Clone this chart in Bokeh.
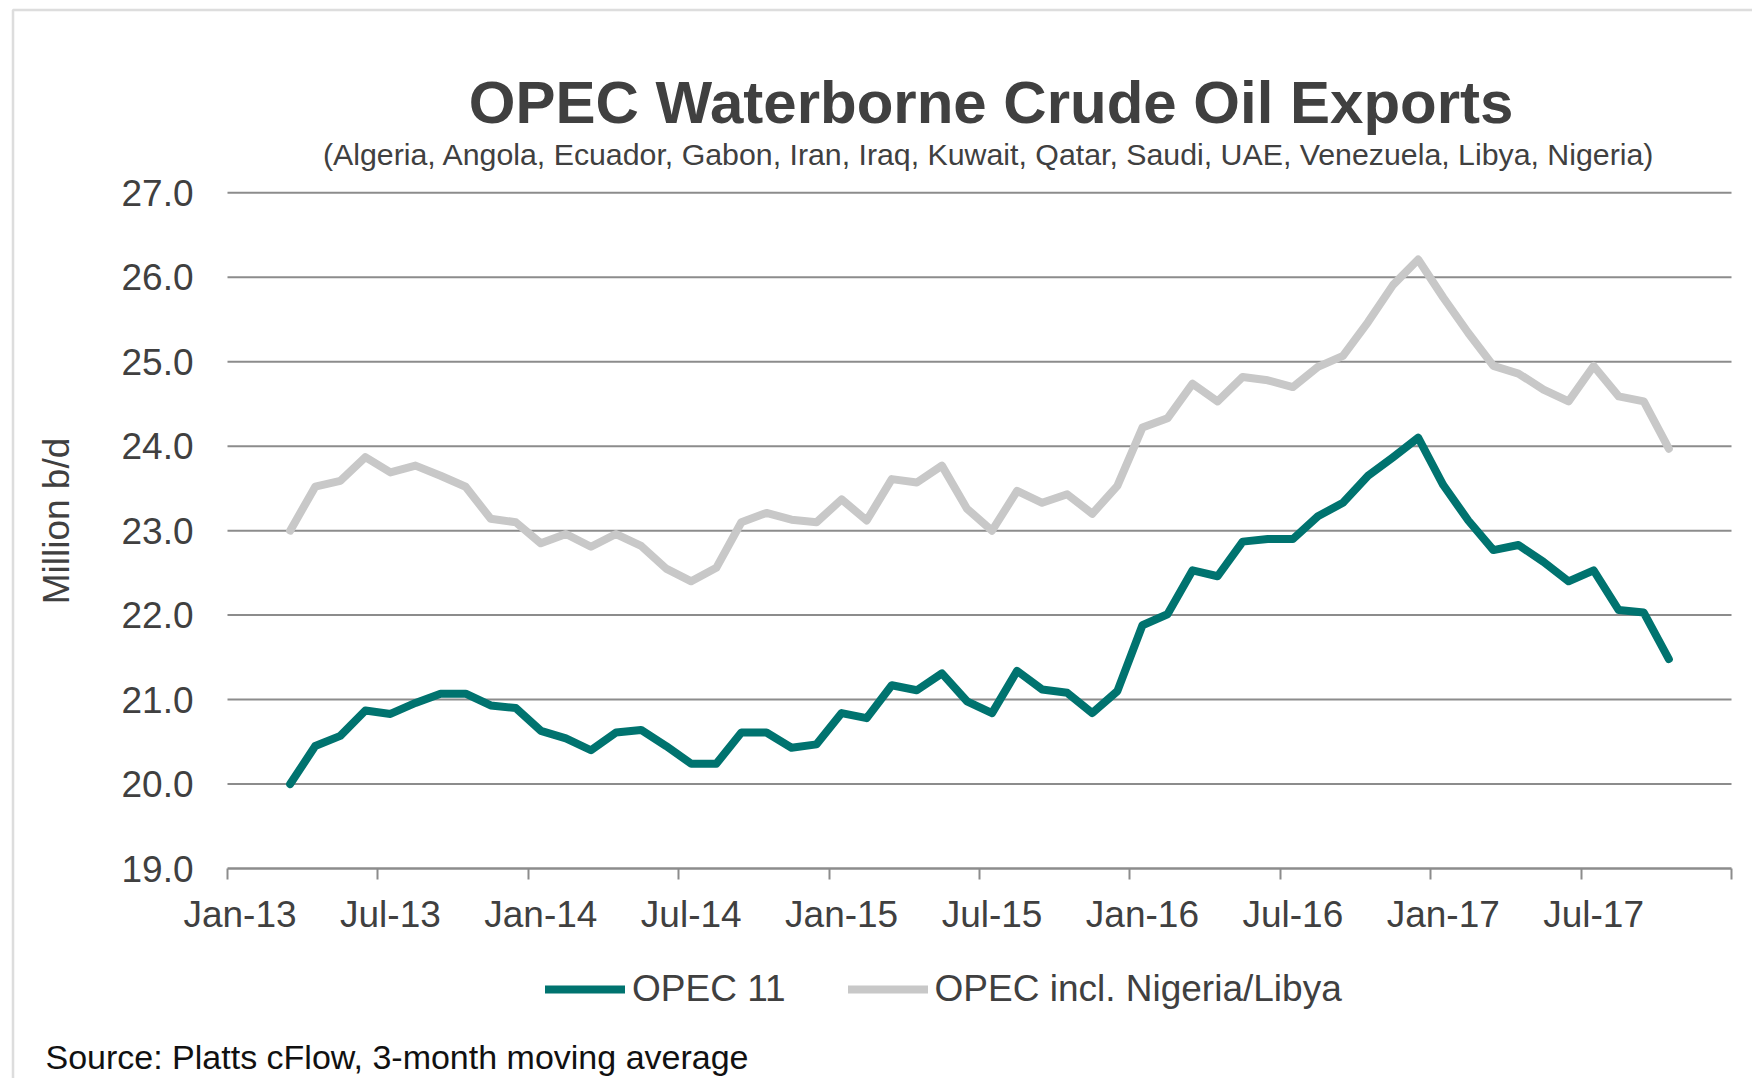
import math
from bokeh.plotting import figure
from bokeh.models import Range1d, FixedTicker, Label, Legend, LegendItem, BoxAnnotation
from bokeh.embed import file_html
from bokeh.resources import INLINE

# ---------------- data ----------------
years = ["13", "14", "15", "16", "17"]
month_names = ["Jan", "Feb", "Mar", "Apr", "May", "Jun",
               "Jul", "Aug", "Sep", "Oct", "Nov", "Dec"]
axis_months = [f"{m}-{y}" for y in years for m in month_names]  # Jan-13 .. Dec-17

months = axis_months[2:58]  # Mar-13 .. Oct-17 (3-month moving average)

opec11 = [20.00, 20.45, 20.57, 20.87, 20.83, 20.96, 21.07, 21.07, 20.93, 20.90,
          20.63, 20.54, 20.40, 20.61, 20.64, 20.45, 20.24, 20.24, 20.61, 20.61,
          20.43, 20.47, 20.84, 20.78, 21.17, 21.11, 21.31, 20.98, 20.84, 21.34,
          21.12, 21.08, 20.84, 21.10, 21.88, 22.01, 22.53, 22.46, 22.87, 22.90,
          22.90, 23.17, 23.33, 23.65, 23.87, 24.10, 23.54, 23.12, 22.77, 22.83,
          22.63, 22.40, 22.53, 22.06, 22.03, 21.48]

opec_all = [23.00, 23.52, 23.59, 23.87, 23.69, 23.77, 23.65, 23.52, 23.14, 23.10,
            22.85, 22.96, 22.81, 22.96, 22.82, 22.55, 22.40, 22.56, 23.10, 23.21,
            23.13, 23.10, 23.37, 23.12, 23.61, 23.57, 23.77, 23.26, 23.00, 23.47,
            23.33, 23.43, 23.20, 23.53, 24.22, 24.33, 24.74, 24.53, 24.82, 24.78,
            24.70, 24.94, 25.07, 25.47, 25.91, 26.21, 25.76, 25.34, 24.95, 24.86,
            24.67, 24.53, 24.95, 24.59, 24.53, 23.97]

tick_labels = ["Jan-13", "Jul-13", "Jan-14", "Jul-14", "Jan-15",
               "Jul-15", "Jan-16", "Jul-16", "Jan-17", "Jul-17"]
y_ticks = [19, 20, 21, 22, 23, 24, 25, 26, 27]

series_names = ["OPEC 11", "OPEC incl. Nigeria/Libya"]
title_text = "OPEC Waterborne Crude Oil Exports"
subtitle_text = "(Algeria, Angola, Ecuador, Gabon, Iran, Iraq, Kuwait, Qatar, Saudi, UAE, Venezuela, Libya, Nigeria)"
y_title = "Million b/d"
source_text = "Source: Platts cFlow, 3-month moving average"

# ---------------- layout ----------------
W, H = 1752, 1078
# plot-area pixel geometry (frame covers whole canvas; axes are pinned inside it)
XA, XB = -0.5, 59.5          # month-axis extent
PXA, PXB = 227.0, 1731.0     # pixel columns of XA, XB
YA, YB = 19.0, 27.0
PYA, PYB = 868.0, 192.3      # pixel rows of YA, YB
kx = (PXB - PXA) / (XB - XA)
ky = (PYA - PYB) / (YB - YA)

def sx(px):
    return XA + (px - PXA) / kx

def sy(py):
    return YA + (PYA - py) / ky

FONT = "Liberation Sans"
TXT = "#404040"
GRID = "#8c8c8c"

x = [axis_months.index(m) for m in months]

p = figure(width=W, height=H, output_backend="svg", toolbar_location=None,
           x_range=Range1d(sx(0), sx(W)), y_range=Range1d(sy(H), sy(0)),
           min_border=0, min_border_left=0, min_border_right=0,
           min_border_top=0, min_border_bottom=0)
p.outline_line_color = None
p.background_fill_color = "white"
p.border_fill_color = "white"
p.xgrid.visible = False
p.ygrid.visible = False

# horizontal gridlines across the plot area
grid_y = y_ticks[1:]
p.segment(x0=[XA] * len(grid_y), x1=[XB] * len(grid_y), y0=grid_y, y1=grid_y,
          line_color=GRID, line_width=2)

# y axis (pinned at left edge of plot area)
p.yaxis.fixed_location = XA
p.yaxis.bounds = (YA, YB)
p.yaxis.ticker = FixedTicker(ticks=y_ticks)
p.yaxis.major_label_overrides = {t: f"{t:.1f}" for t in y_ticks}
p.yaxis.axis_line_color = None
p.yaxis.major_tick_line_color = None
p.yaxis.minor_tick_line_color = None
p.yaxis.major_tick_out = 0
p.yaxis.major_tick_in = 0
p.yaxis.major_label_standoff = 34
p.yaxis.major_label_text_font = FONT
p.yaxis.major_label_text_font_size = "37px"
p.yaxis.major_label_text_color = TXT

# x axis (pinned at 19.0)
tick_pos = [axis_months.index(t) for t in tick_labels]
p.xaxis.fixed_location = YA
p.xaxis.bounds = (XA, XB)
p.xaxis.ticker = FixedTicker(ticks=tick_pos,
                             minor_ticks=[t - 0.5 for t in tick_pos] + [XB])
p.xaxis.major_label_overrides = {t: lab for t, lab in zip(tick_pos, tick_labels)}
p.xaxis.axis_line_color = GRID
p.xaxis.axis_line_width = 2.5
p.xaxis.major_tick_line_color = None
p.xaxis.major_tick_out = 0
p.xaxis.major_tick_in = 0
p.xaxis.minor_tick_line_color = GRID
p.xaxis.minor_tick_line_width = 2
p.xaxis.minor_tick_out = 11
p.xaxis.minor_tick_in = 0
p.xaxis.major_label_standoff = 14
p.xaxis.major_label_text_font = FONT
p.xaxis.major_label_text_font_size = "37px"
p.xaxis.major_label_text_color = TXT

# series
r_all = p.line(x, opec_all, line_color="#c8c8c8", line_width=8,
               line_join="round", line_cap="round")
r_11 = p.line(x, opec11, line_color="#00736f", line_width=8,
              line_join="round", line_cap="round")

legend_center_px = 990
legend = Legend(items=[LegendItem(label=series_names[0], renderers=[r_11]),
                       LegendItem(label=series_names[1], renderers=[r_all])],
                orientation="horizontal", location=(545, H - legend_center_px - 20),
                glyph_width=80, glyph_height=10, label_standoff=7, spacing=62,
                padding=0, margin=0, border_line_color=None,
                background_fill_alpha=0,
                label_text_font=FONT, label_text_font_size="37px",
                label_text_color=TXT)
p.add_layout(legend)

# outer chart border (left and top edges visible)
p.add_layout(BoxAnnotation(left=sx(12.5), right=sx(W + 50), top=sy(9.5), bottom=sy(H + 50),
                           fill_alpha=0, line_color="#8f8f8f", line_width=2.5))

# texts (y positions compensate for the renderer's baseline offset)
p.add_layout(Label(x=sx(990.6), y=sy(102.2), text=title_text, text_align="center",
                   text_baseline="alphabetic", text_font=FONT,
                   text_font_style="bold", text_font_size="60px", text_color=TXT))
p.add_layout(Label(x=sx(988.5), y=sy(154.0), text=subtitle_text, text_align="center",
                   text_baseline="alphabetic", text_font=FONT,
                   text_font_size="30.3px", text_color=TXT))
p.add_layout(Label(x=sx(55.5), y=sy(520.5), text=y_title, angle=math.pi / 2,
                   text_align="center", text_baseline="alphabetic",
                   text_font=FONT, text_font_size="37px", text_color=TXT))
p.add_layout(Label(x=sx(45), y=sy(1056), text=source_text, text_align="left",
                   text_baseline="alphabetic", text_font=FONT,
                   text_font_size="34px", text_color="#111111"))

open("out.html", "w").write(file_html(p, INLINE))
